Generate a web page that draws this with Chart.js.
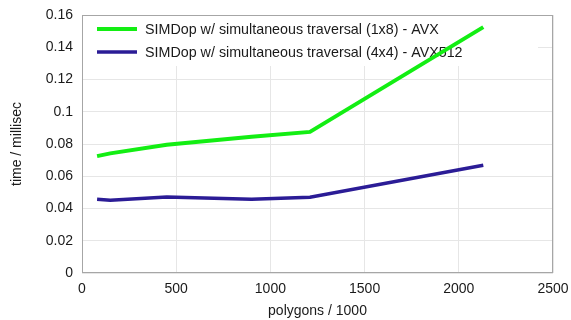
<!DOCTYPE html>
<html>
<head>
<meta charset="utf-8">
<script src="https://cdn.jsdelivr.net/npm/chart.js@4.4.1/dist/chart.umd.min.js"></script>
<style>
  html, body { margin: 0; padding: 0; background: #fff; }
  #wrap { width: 571px; height: 320px; }
</style>
</head>
<body>
<div id="wrap"><canvas id="timing"></canvas></div>
<script>
// polygons (in thousands) and timings in milliseconds
const polygons = [80, 150, 450, 900, 1210, 2130];
const timeAvx = [0.0725, 0.0742, 0.0795, 0.0845, 0.0875, 0.1525];
const timeAvx512 = [0.0458, 0.0451, 0.0472, 0.0457, 0.0470, 0.0668];
const seriesNames = [
    'SIMDop w/ simultaneous traversal (1x8) - AVX',
    'SIMDop w/ simultaneous traversal (4x4) - AVX512'
];
const xTicks = [0, 500, 1000, 1500, 2000, 2500];
const yTicks = [0, 0.02, 0.04, 0.06, 0.08, 0.1, 0.12, 0.14, 0.16];

const FONT = '"Liberation Sans", Arial, sans-serif';

function toPoints(values) {
    return polygons.map((p, i) => ({ x: p, y: values[i] }));
}

// frame around the plot plus a white legend box sitting under the lines
const frameAndLegend = {
    id: 'frameAndLegend',
    beforeDatasetsDraw(chart) {
        const { ctx, chartArea: a } = chart;
        ctx.save();

        ctx.fillStyle = '#fff';
        ctx.fillRect(a.left + 1, a.top + 1, 455, 50);

        ctx.strokeStyle = '#a6a6a6';
        ctx.lineWidth = 1;
        ctx.strokeRect(a.left + 0.5, a.top + 0.5, a.right - a.left - 1, a.bottom - a.top - 1);

        ctx.font = '14.3px ' + FONT;
        ctx.textBaseline = 'middle';
        chart.data.datasets.forEach((ds, i) => {
            const y = a.top + 14 + i * 23;
            ctx.strokeStyle = ds.borderColor;
            ctx.lineWidth = ds.borderWidth;
            ctx.beginPath();
            ctx.moveTo(a.left + 15, y);
            ctx.lineTo(a.left + 55, y);
            ctx.stroke();
            ctx.fillStyle = '#1a1a1a';
            ctx.fillText(ds.label, a.left + 63, y + 1);
        });
        ctx.restore();
    }
};

new Chart(document.getElementById('timing'), {
    type: 'line',
    data: {
        datasets: [
            {
                label: seriesNames[0],
                data: toPoints(timeAvx),
                borderColor: '#13ee13',
                borderWidth: 4,
                pointRadius: 0,
                tension: 0
            },
            {
                label: seriesNames[1],
                data: toPoints(timeAvx512),
                borderColor: '#2b1c96',
                borderWidth: 3.5,
                pointRadius: 0,
                tension: 0
            }
        ]
    },
    options: {
        responsive: true,
        maintainAspectRatio: false,
        animation: false,
        layout: { padding: { top: 15, right: 18, left: 0, bottom: 0 } },
        plugins: {
            legend: { display: false },
            tooltip: { enabled: false }
        },
        scales: {
            x: {
                type: 'linear',
                min: 0,
                max: 2500,
                afterBuildTicks: (axis) => { axis.ticks = xTicks.map(v => ({ value: v })); },
                afterFit: (axis) => {
                    axis.height = 47;
                    axis.paddingLeft = 0;
                    axis.paddingRight = 0;
                },
                grid: { color: '#e6e6e6', drawTicks: false },
                border: { display: false },
                ticks: {
                    padding: 8,
                    color: '#1a1a1a',
                    font: { family: FONT, size: 14 },
                    maxRotation: 0,
                    callback: (v) => String(v)
                },
                title: {
                    display: true,
                    text: 'polygons / 1000',
                    color: '#1a1a1a',
                    font: { family: FONT, size: 14 },
                    padding: { top: 4, bottom: 0 }
                }
            },
            y: {
                min: 0,
                max: 0.16,
                afterBuildTicks: (axis) => { axis.ticks = yTicks.map(v => ({ value: v })); },
                afterFit: (axis) => {
                    axis.width = 82;
                    axis.paddingTop = 0;
                    axis.paddingBottom = 0;
                },
                grid: { color: '#e6e6e6', drawTicks: false },
                border: { display: false },
                ticks: {
                    padding: 9,
                    color: '#1a1a1a',
                    font: { family: FONT, size: 14 },
                    callback: (v) => String(Math.round(v * 100) / 100)
                },
                title: {
                    display: true,
                    text: 'time / millisec',
                    color: '#1a1a1a',
                    font: { family: FONT, size: 14 },
                    padding: { top: 9, bottom: 0 }
                }
            }
        }
    },
    plugins: [frameAndLegend]
});
</script>
</body>
</html>
